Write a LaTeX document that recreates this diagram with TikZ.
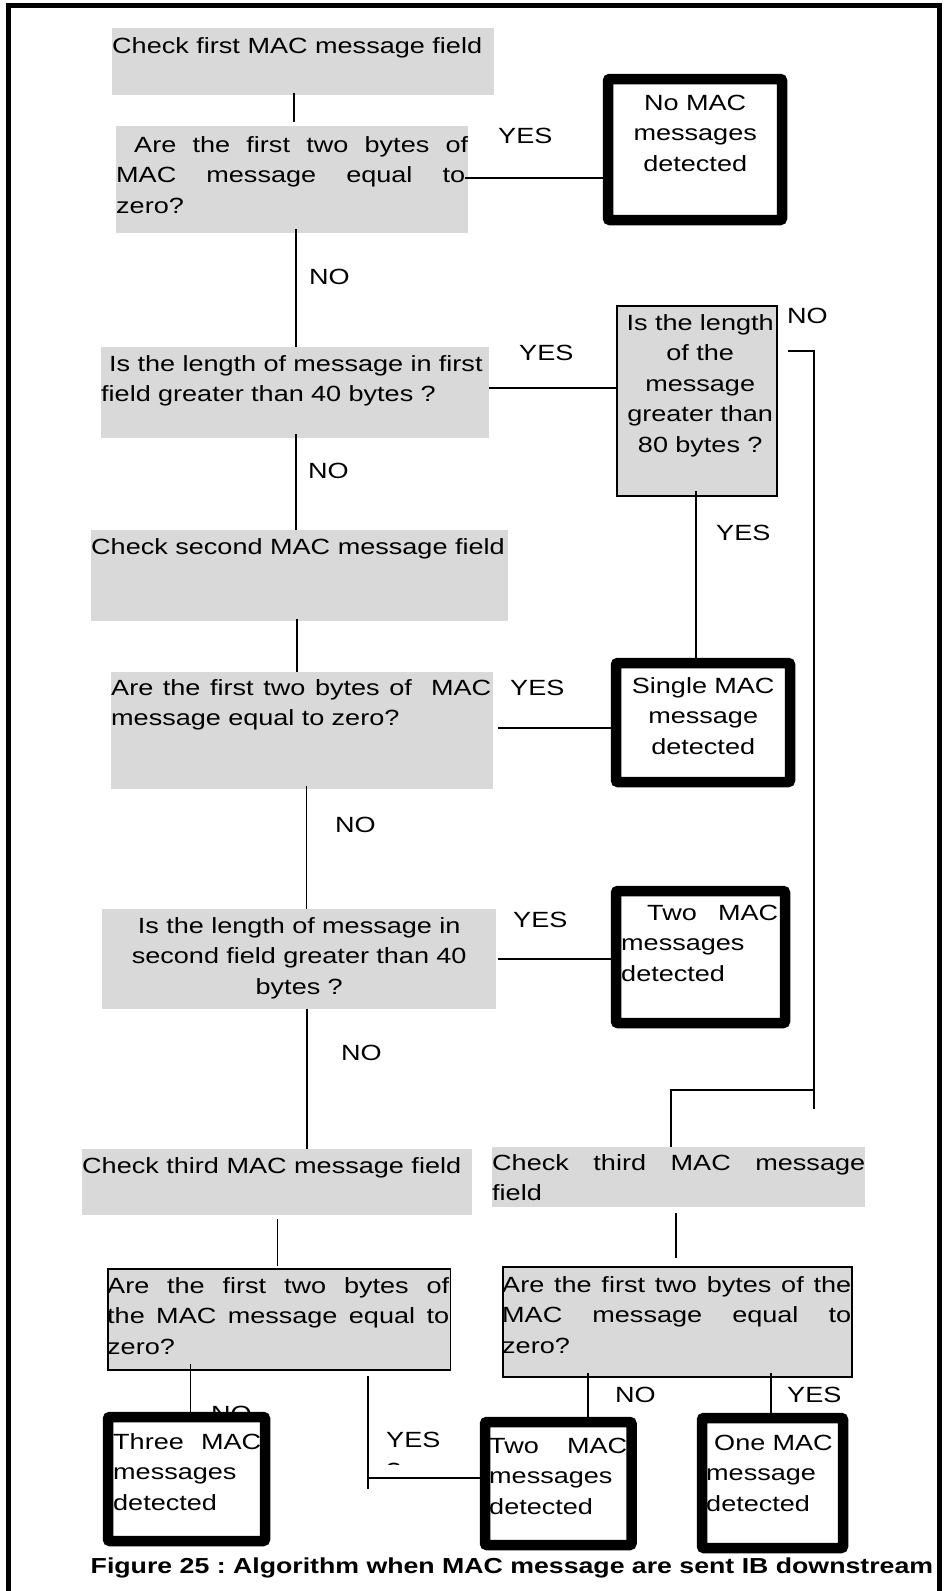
\documentclass[tikz,border=0pt]{standalone}
\usepackage{fontspec}
\setmainfont{Liberation Sans}[FakeStretch=1.23]
\usetikzlibrary{calc}
\definecolor{boxgray}{HTML}{D9D9D9}
\newcommand{\fl}{\rule{0pt}{20pt}}
\newcommand{\jline}[2]{\leavevmode\hbox to #1{\spaceskip=0.25em plus 1fil\relax #2}}
\frenchspacing
\begin{document}
\begin{tikzpicture}[x=1pt,y=-1pt,
  every node/.style={font=\fontsize{22}{30.5}\selectfont},
  gbox/.style={fill=boxgray, draw=none, inner sep=0, outer sep=0, anchor=north west},
  gboxb/.style={fill=boxgray, draw=black, line width=1.8pt, inner sep=0, anchor=north west},
  endbox/.style={draw=black, fill=white, line width=10.5pt, rounded corners=2pt, inner sep=0},
  conn/.style={line width=1.6pt},
  lbl/.style={inner sep=0, anchor=base west},
  tb/.style={inner sep=0, anchor=north west, text width=#1, align=left},
  tc/.style={inner sep=0, anchor=north west, text width=#1, align=center},
]
\useasboundingbox (0,0) rectangle (946,1591);
% frame
\draw[line width=5pt] (8,1591) -- (8,5) -- (939,5) -- (939,1591);

% gray boxes
\node[gbox, minimum width=382pt, minimum height=67pt] (b1) at (112,28) {};
\node[gbox, minimum width=352pt, minimum height=107pt] (b2) at (116,126) {};
\node[gbox, minimum width=388pt, minimum height=91pt] (b4) at (101,347) {};
\node[gbox, minimum width=417pt, minimum height=91pt] (b5) at (91,530) {};
\node[gbox, minimum width=382pt, minimum height=117pt] (b8) at (111,672) {};
\node[gbox, minimum width=394pt, minimum height=100pt] (b9) at (102,909) {};
\node[gbox, minimum width=390pt, minimum height=66pt] (b11) at (82,1149) {};
\node[gbox, minimum width=373pt, minimum height=60pt] (b12) at (492,1147) {};
\node[gboxb, minimum width=160pt, minimum height=190pt] (b6) at (616,305) {};
\node[gboxb, minimum width=342.5pt, minimum height=101pt] (b13) at (107,1268) {};
\node[gboxb, minimum width=349pt, minimum height=110pt] (b14) at (502,1266) {};

% end boxes
\node[endbox, minimum width=174pt, minimum height=141pt] (b3) at (695,149.5) {};
\node[endbox, minimum width=174pt, minimum height=119pt] (b7) at (703,722.5) {};
\node[endbox, minimum width=169pt, minimum height=132pt] (b10) at (700.5,957) {};
\node[endbox, minimum width=157pt, minimum height=124pt] (b15) at (186.5,1479) {};
\node[endbox, minimum width=146.5pt, minimum height=123pt] (b16) at (558.25,1483.5) {};
\node[endbox, minimum width=141pt, minimum height=130pt] (b17) at (772.5,1483) {};

% texts
\node[lbl] (t1) at (112,53) {Check first MAC message field};
\node[tb=352pt] (t2) at (116,132) {\fl\hspace*{18pt}\jline{334pt}{Are the first two bytes of}\\
  \jline{349pt}{MAC message equal to}\\ zero?};
\node[tc=174pt] (t3) at (608,90) {\fl No MAC\\ messages\\ detected};
\node[tb=388pt] (t4) at (101,351) {\fl\hspace*{8pt}Is the length of message in first\\ field greater than 40 bytes ?};
\node[tc=162pt] (t6) at (619,310) {\fl Is the length\\ of the\\ message\\ greater than\\ 80 bytes ?};
\node[lbl] (t5) at (91,554) {Check second MAC message field};
\node[tb=382pt] (t8) at (111,675) {\fl\jline{380pt}{Are the first two bytes of\ \ MAC}\\ message equal to zero?};
\node[tc=174pt] (t7) at (616,673) {\fl Single MAC\\ message\\ detected};
\node[tc=394pt] (t9) at (102,913) {\fl Is the length of message in\\ second field greater than 40\\ bytes ?};
\node[tb=160pt] (t10) at (621,900) {\fl\hspace*{26pt}\jline{131pt}{Two MAC}\\ messages\\ detected};
\node[lbl] (t11) at (82,1173) {Check third MAC message field};
\node[tb=373pt] (t12) at (492,1150) {\fl\jline{373pt}{Check third MAC message}\\ field};
\node[tb=343pt] (t13) at (107,1273) {\fl\jline{342pt}{Are the first two bytes of}\\
  \jline{342pt}{the MAC message equal to}\\ zero?};
\node[tb=349pt] (t14) at (502,1272) {\fl\jline{349pt}{Are the first two bytes of the}\\
  \jline{349pt}{MAC message equal to}\\ zero?};
\node[tb=148pt] (t15) at (113,1429) {\fl\jline{148pt}{Three MAC}\\ messages\\ detected};
\node[tb=138pt] (t16) at (489,1433) {\fl\jline{138pt}{Two MAC}\\ messages\\ detected};
\node[tb=133pt] (t17) at (706,1430) {\fl\hspace*{8pt}One MAC\\ message\\ detected};

% labels
\node[lbl] (y1) at (498,143) {YES};
\node[lbl] (n1) at (309,284) {NO};
\node[lbl] (y2) at (519,360) {YES};
\node[lbl] (n2) at (787,323) {NO};
\node[lbl] (y3) at (716,540) {YES};
\node[lbl] (n3) at (308,478) {NO};
\node[lbl] (y4) at (510,695) {YES};
\node[lbl] (n4) at (335,832) {NO};
\node[lbl] (y5) at (513,927) {YES};
\node[lbl] (n5) at (341,1060) {NO};
\node[lbl] (n6) at (211,1421) {NO};
\node[lbl] (y6) at (386,1447) {YES};
\begin{scope}
  \clip (380,1452) rectangle (412,1464);
  \node[lbl] (q6) at (386,1478) {?};
\end{scope}
\node[lbl] (n7) at (615,1402) {NO};
\node[lbl] (y7) at (787,1402) {YES};

% connectors
\draw[conn, shorten >=4pt] ([xshift=182pt,yshift=2pt]b1.south west) -- ([xshift=178pt]b2.north west);
\draw[conn] ([xshift=-3pt,yshift=1.5pt]b2.east) coordinate (c2s) -- (c2s -| b3.west);
\draw[conn] ([xshift=180pt,yshift=4pt]b2.south west) -- ([xshift=195pt]b4.north west);
\draw[conn] ([yshift=4.5pt]b4.east) coordinate (c4s) -- (c4s -| b6.west);
\draw[conn] ([xshift=195pt,yshift=4pt]b4.south west) -- ([xshift=205pt]b5.north west);
\draw[conn] ([xshift=-1pt,yshift=6pt]b6.south) coordinate (c6s) -- (c6s |- b7.north);
\draw[conn] ([xshift=10pt,yshift=50pt]b6.east) -- ++(26,0) -- ++(0,758);
\coordinate (j1) at (813,1090);
\draw[line width=2.2pt] (j1) -| ([xshift=179pt]b12.north west);
\draw[conn] ([xshift=206pt,yshift=2pt]b5.south west) -- ([xshift=186pt]b8.north west);
\draw[conn] ([xshift=5pt,yshift=2.5pt]b8.east) coordinate (c9s) -- (c9s -| b7.west);
\draw[conn] ([xshift=195.5pt,yshift=3pt]b8.south west) -- ([xshift=204.5pt]b9.north west);
\draw[conn] ([xshift=2pt]b9.east) coordinate (c11s) -- (c11s -| b10.west);
\draw[conn] ([xshift=205pt]b9.south west) -- ([xshift=225pt]b11.north west);
\draw[conn] ([xshift=195.5pt,yshift=-4pt]b11.south west) -- ([xshift=170.5pt,yshift=2pt]b13.north west);
\draw[conn] ([xshift=184pt,yshift=-6pt]b12.south west) -- ([xshift=174pt,yshift=8pt]b14.north west);
\draw[conn] ([xshift=83.5pt,yshift=7pt]b13.south west) coordinate (c15s) -- (c15s |- b15.north);
\draw[conn] ([xshift=261pt,yshift=-5pt]b13.south west) coordinate (c16s) -- ++(0,113);
\draw[conn] ([yshift=5.5pt]b16.west) coordinate (c16e) -- (c16e -| c16s);
\draw[conn] ([xshift=86pt,yshift=5pt]b14.south west) coordinate (c17s) -- (c17s |- b16.north);
\draw[conn] ([xshift=269pt,yshift=5pt]b14.south west) coordinate (c18s) -- (c18s |- b17.north);

% caption
\node[lbl, font=\fontsize{21.7}{26}\selectfont\bfseries] (cap) at (90.5,1573) {Figure 25 : Algorithm when MAC message are sent IB downstream};
\end{tikzpicture}
\end{document}
